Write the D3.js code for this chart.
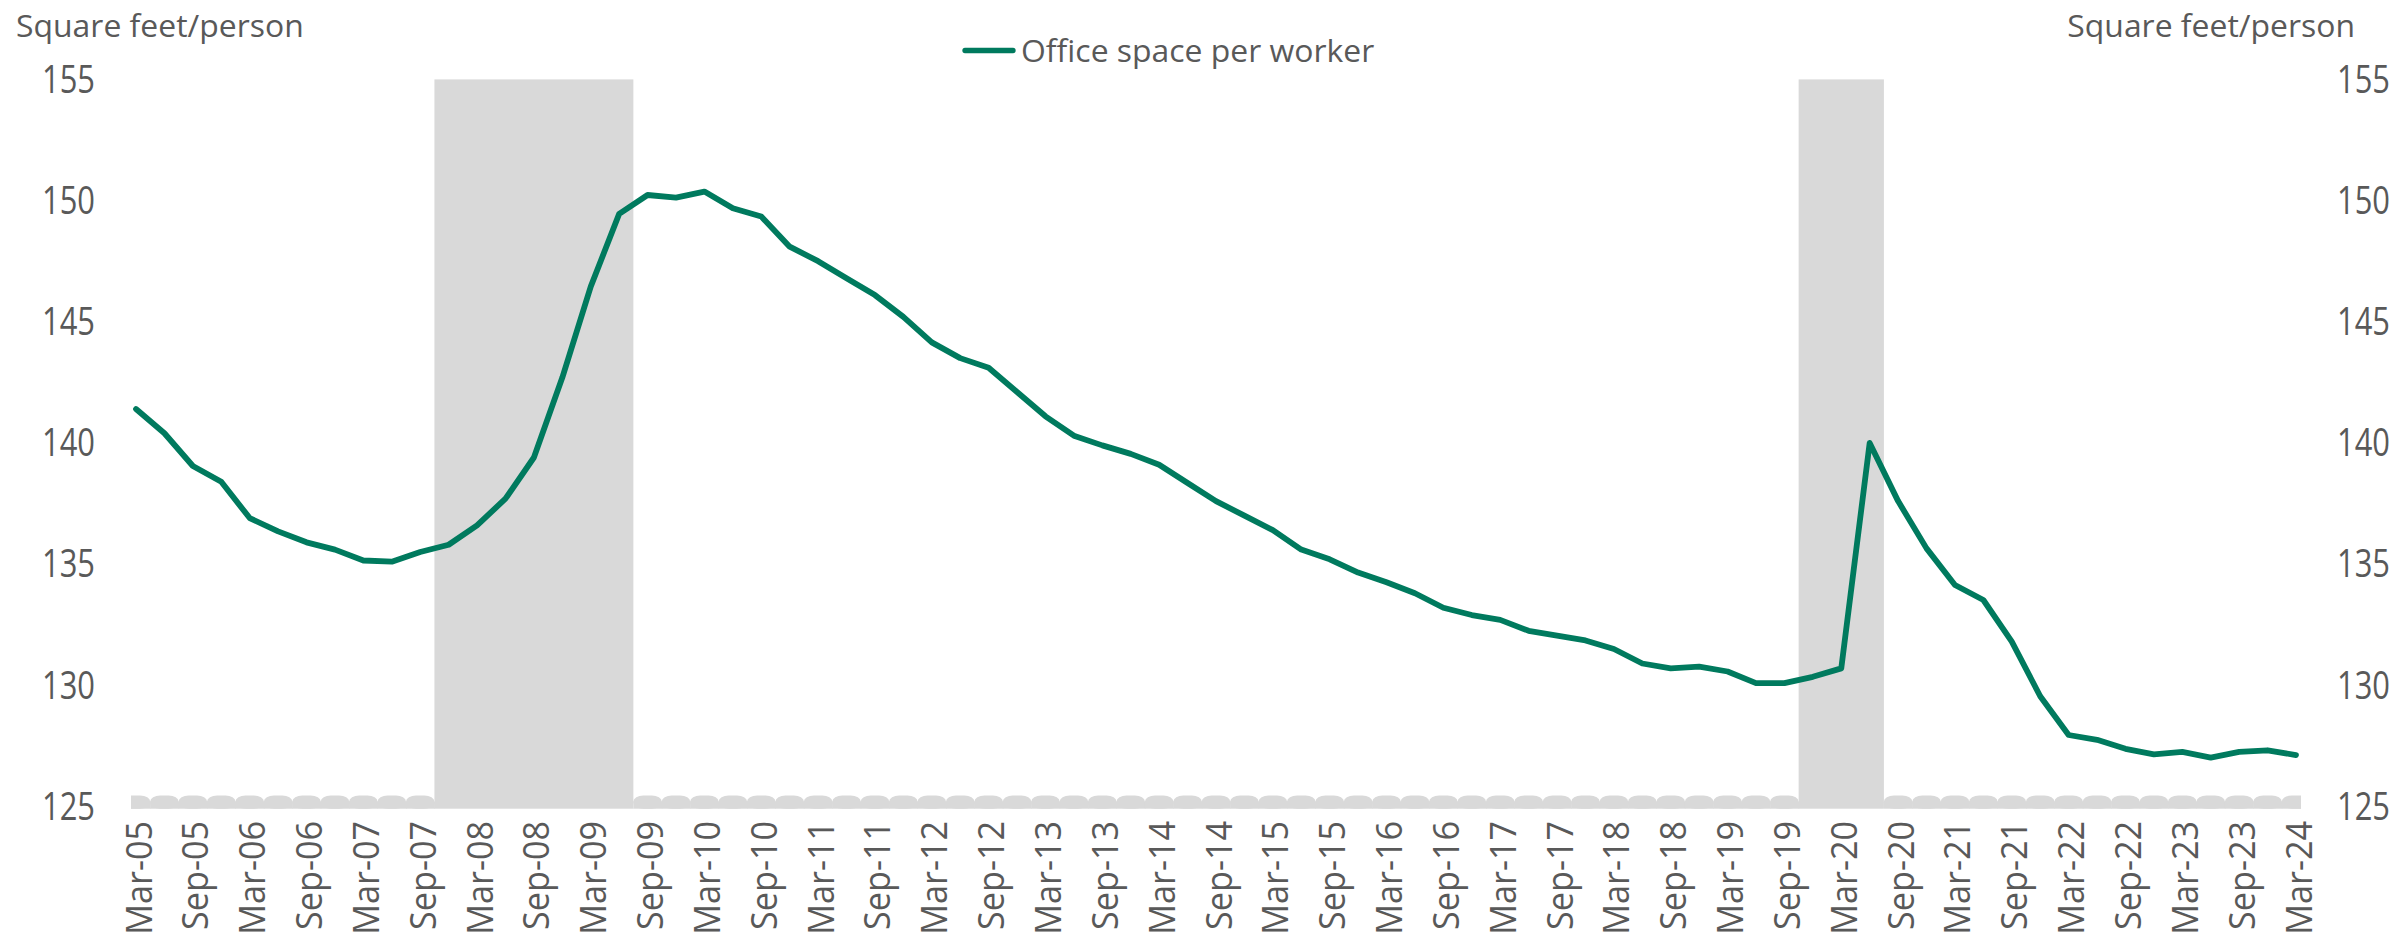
<!DOCTYPE html>
<html>
<head>
<meta charset="utf-8">
<script src="https://cdn.jsdelivr.net/npm/d3@7"></script>
<style>
  body { margin: 0; background: #fff; }
  text { font-family: "Open Sans", "Noto Sans", sans-serif; fill: #595959; }
</style>
</head>
<body>
<svg id="chart"></svg>
<script>
// quarterly office space per worker, Mar-05 .. Mar-24
const values = [
  141.4, 140.4, 139.05, 138.4, 136.9, 136.35, 135.9, 135.6, 135.15, 135.1,
  135.5, 135.8, 136.6, 137.7, 139.4, 142.7, 146.45, 149.45, 150.23, 150.12,
  150.37, 149.68, 149.34, 148.1, 147.5, 146.8, 146.1, 145.2, 144.15, 143.5,
  143.1, 142.1, 141.1, 140.3, 139.9, 139.55, 139.1, 138.35, 137.6, 137.0,
  136.4, 135.6, 135.2, 134.65, 134.25, 133.8, 133.2, 132.9, 132.7, 132.25,
  132.05, 131.85, 131.5, 130.9, 130.7, 130.77, 130.57, 130.09, 130.09, 130.35,
  130.7, 140.0, 137.6, 135.65, 134.14, 133.52, 131.8, 129.55, 127.95, 127.75,
  127.38, 127.15, 127.25, 127.02, 127.25, 127.32, 127.12
];
const tick_labels = [
  "Mar-05","Sep-05","Mar-06","Sep-06","Mar-07","Sep-07","Mar-08","Sep-08","Mar-09","Sep-09",
  "Mar-10","Sep-10","Mar-11","Sep-11","Mar-12","Sep-12","Mar-13","Sep-13","Mar-14","Sep-14",
  "Mar-15","Sep-15","Mar-16","Sep-16","Mar-17","Sep-17","Mar-18","Sep-18","Mar-19","Sep-19",
  "Mar-20","Sep-20","Mar-21","Sep-21","Mar-22","Sep-22","Mar-23","Sep-23","Mar-24"
];
const recessions = [["Dec-07", "Jun-09"], ["Dec-19", "Jun-20"]];
const y_ticks = [125, 130, 135, 140, 145, 150, 155];
const bump_value = 125.45;   // the small grey columns outside recessions
const series_name = "Office space per worker";
const axis_title = "Square feet/person";

const width = 2395, height = 943;
const fmt = d3.timeFormat("%b-%y");
const quarters = d3.timeMonth.range(new Date(2005, 2, 1), new Date(2024, 3, 1), 3).map(fmt);

const svg = d3.select("#chart").attr("width", width).attr("height", height);

const x = d3.scaleLinear().domain([0, quarters.length - 1]).range([136, 2296]);
const y = d3.scaleLinear().domain([125, 155]).range([806.5, 79.4]);
const step = x(1) - x(0);

// which quarters are in recession
const in_rec = quarters.map((q, i) => recessions.some(([a, b]) =>
  i >= quarters.indexOf(a) && i <= quarters.indexOf(b)));

svg.append("clipPath").attr("id", "plot")
  .append("rect").attr("x", 131).attr("y", 0).attr("width", 2301 - 131).attr("height", height);

const bars = svg.append("g").attr("clip-path", "url(#plot)");
const base = y(125) + 2.2;

// recession shading
recessions.forEach(([a, b]) => {
  const i0 = quarters.indexOf(a), i1 = quarters.indexOf(b);
  bars.append("rect")
    .attr("x", x(i0 - 0.5))
    .attr("width", x(i1 + 0.5) - x(i0 - 0.5))
    .attr("y", y(155))
    .attr("height", base - y(155))
    .attr("fill", "#d9d9d9");
});

// little bumps
const others = quarters.map((q, i) => i).filter(i => !in_rec[i]);
bars.selectAll("rect.bump")
  .data(others)
  .enter().append("rect")
  .attr("class", "bump")
  .attr("x", i => x(i - 0.5))
  .attr("width", step)
  .attr("y", y(bump_value))
  .attr("height", base - y(bump_value))
  .attr("rx", 10).attr("ry", 6)
  .attr("fill", "#d9d9d9");
// square off the lower part so the strip is continuous
bars.selectAll("rect.strip")
  .data(others)
  .enter().append("rect")
  .attr("class", "strip")
  .attr("x", i => x(i - 0.5))
  .attr("width", step + 0.5)
  .attr("y", y(bump_value) + 6)
  .attr("height", base - y(bump_value) - 6)
  .attr("fill", "#d9d9d9");

// line
const line = d3.line().x((d, i) => x(i)).y(d => y(d));
svg.append("path")
  .datum(values)
  .attr("d", line)
  .attr("fill", "none")
  .attr("stroke", "#007a5e")
  .attr("stroke-width", 5.8)
  .attr("stroke-linejoin", "round")
  .attr("stroke-linecap", "round");

// y axes (text is a bit condensed in the original)
svg.append("g").selectAll("text").data(y_ticks).enter().append("text")
  .attr("transform", d => `translate(95,${y(d) + 13.3}) scale(0.826,1)`)
  .attr("text-anchor", "end")
  .attr("font-size", 37.4)
  .text(d => d);
svg.append("g").selectAll("text").data(y_ticks).enter().append("text")
  .attr("transform", d => `translate(2337,${y(d) + 13.3}) scale(0.826,1)`)
  .attr("text-anchor", "start")
  .attr("font-size", 37.4)
  .text(d => d);

// x labels
svg.append("g").selectAll("text").data(tick_labels).enter().append("text")
  .attr("transform", d => `translate(${x(quarters.indexOf(d)) + 15.5},821) rotate(-90) scale(0.95,1)`)
  .attr("text-anchor", "end")
  .attr("font-size", 36)
  .text(d => d);

// axis titles
svg.append("text").attr("transform", "translate(16,37) scale(1.03,1)")
  .attr("font-size", 31).text(axis_title);
svg.append("text").attr("transform", "translate(2355,37) scale(1.03,1)")
  .attr("text-anchor", "end").attr("font-size", 31).text(axis_title);

// legend
svg.append("line")
  .attr("x1", 965).attr("x2", 1013).attr("y1", 50.5).attr("y2", 50.5)
  .attr("stroke", "#007a5e").attr("stroke-width", 5.3).attr("stroke-linecap", "round");
svg.append("text").attr("transform", "translate(1021,61.5) scale(1.03,1)")
  .attr("font-size", 31).text(series_name);
</script>
</body>
</html>
